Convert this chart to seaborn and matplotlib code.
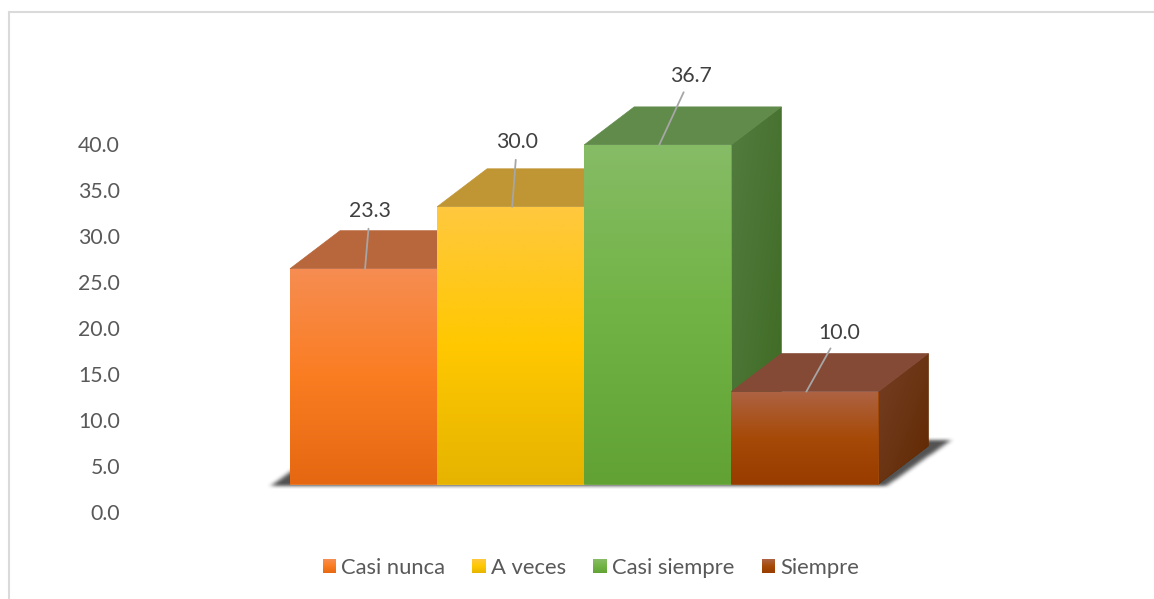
import numpy as np
import pandas as pd
import matplotlib
matplotlib.use("Agg")
import matplotlib.pyplot as plt
import seaborn as sns
from matplotlib.colors import to_rgb
from matplotlib.legend_handler import HandlerBase
from matplotlib.lines import Line2D
from matplotlib.patches import Patch, Polygon, Rectangle
from matplotlib.path import Path

# ---------- data ----------
categories = ["Casi nunca", "A veces", "Casi siempre", "Siempre"]
values = [23.3, 30.0, 36.7, 10.0]
axis_ticks = [0, 5, 10, 15, 20, 25, 30, 35, 40]

# ---------- styles ----------
front_colors = [("#F68D52", "#FB7D22", "#E56711"),
                ("#FFC83F", "#FFC800", "#E6B400"),
                ("#86BC66", "#71B344", "#62A235"),
                ("#AE6343", "#A64A08", "#983C00")]
top_colors = ["#B8663C", "#C09634", "#618B4B", "#854A36"]
side_colors = [("#B05A20", "#9A4C10"), ("#B09020", "#947800"),
               ("#537C40", "#3D6A22"), ("#753F26", "#612900")]
label_offsets = [(5, 58), (5, 65), (32, 69), (33, 59)]   # pixels from the bar-top anchor

W, H, DPI = 1154, 599, 100
PX_PER_BAR, PX_PER_UNIT = 147.1, 9.24
BASE_X, BASE_Y = 290, 484        # pixel position of the left end of the bars' base
DEPTH_PX = (50, 38)
AX_L, AX_R, AX_T, AX_B = 125, 1000, 40, 525
TICK_SHIFT, TICK_SCALE = 3.03, 0.996   # the 3-D floor sits above the axis labels

sns.set_theme(style="white")
plt.rcParams["font.family"] = ["Lato", "DejaVu Sans"]

fig = plt.figure(figsize=(W / DPI, H / DPI), dpi=DPI, facecolor="white")
ax = fig.add_axes([AX_L / W, 1 - AX_B / H, (AX_R - AX_L) / W, (AX_B - AX_T) / H])

xlim = (-0.5 - (BASE_X - AX_L) / PX_PER_BAR, -0.5 + (AX_R - BASE_X) / PX_PER_BAR)
ylim = ((BASE_Y - AX_B) / PX_PER_UNIT, (BASE_Y - AX_T) / PX_PER_UNIT)
dx, dy = DEPTH_PX[0] / PX_PER_BAR, DEPTH_PX[1] / PX_PER_UNIT

df = pd.DataFrame({"categoria": categories, "valor": values})
sns.barplot(data=df, x="categoria", y="valor", hue="categoria", hue_order=categories,
            palette=[c[1] for c in front_colors], width=1, dodge=False, legend=False,
            saturation=1, linewidth=0, ax=ax)
sns.despine(ax=ax, left=True, bottom=True)


def gradient_face(verts, stops, z, diagonal=False):
    """Fill a polygon with a linear gradient, top to bottom (or corner to corner)."""
    verts = np.asarray(verts)
    # solid underlay stops the white background bleeding through antialiased edges
    under = stops[len(stops) // 2]
    ax.add_patch(Polygon(verts, closed=True, fc=under, ec=under, lw=0.5, zorder=z - 0.05))
    poly = Polygon(verts, closed=True, transform=ax.transData, fc="none", ec="none")
    ax.add_patch(poly)
    rgb = np.array([to_rgb(c) for c in stops])
    n = 256
    v, u = np.mgrid[0:1:n * 1j, 0:1:n * 1j]
    t = (u + v) / 2 if diagonal else v
    pos = np.linspace(0, 1, len(stops))
    img = np.dstack([np.interp(t, pos, rgb[:, k]) for k in range(3)])
    im = ax.imshow(img, extent=(verts[:, 0].min(), verts[:, 0].max(),
                                verts[:, 1].min(), verts[:, 1].max()),
                   origin="upper", aspect="auto", zorder=z, interpolation="bilinear")
    im.set_clip_path(poly)


# soft floor shadow, blurred from a parallelogram under the bars
def floor_shadow(x0, x1):
    px, py = 1 / PX_PER_BAR, 1 / PX_PER_UNIT
    shape = Path([(x0 - 19 * px, -3 * py), (x1 + 8 * px, -3 * py),
                  (x1 + 72 * px, 43 * py), (x0 + 43 * px, 43 * py)])
    gx = np.linspace(x0 - 40 * px, x1 + 90 * px, 1040)
    gy = np.linspace(-15 * py, 55 * py, 70)
    xx, yy = np.meshgrid(gx, gy)
    mask = shape.contains_points(np.c_[xx.ravel(), yy.ravel()]).reshape(xx.shape).astype(float)
    kx, ky = np.ones(9) / 9, np.ones(4) / 4
    for _ in range(2):
        mask = np.apply_along_axis(lambda r: np.convolve(r, ky, "same"), 0, mask)
        mask = np.apply_along_axis(lambda r: np.convolve(r, kx, "same"), 1, mask)
    rgba = np.zeros(mask.shape + (4,))
    rgba[..., :3] = to_rgb("#3F3F3F")
    rgba[..., 3] = mask * 0.9
    ax.imshow(rgba, extent=(gx[0], gx[-1], gy[0], gy[-1]), origin="lower",
              aspect="auto", zorder=0.5, interpolation="bilinear")


bars = [c[0] for c in ax.containers]
floor_shadow(bars[0].get_x(), bars[-1].get_x() + bars[-1].get_width())

for i, bar in enumerate(bars):
    x0, x1, h = bar.get_x(), bar.get_x() + bar.get_width(), bar.get_height()
    z = 2 + i
    bar.set_zorder(z)
    gradient_face([(x1, 0), (x1 + dx, dy), (x1 + dx, h + dy), (x1, h)],
                  side_colors[i], z + 0.1, diagonal=True)
    ax.add_patch(Polygon([(x0, h), (x1, h), (x1 + dx, h + dy), (x0 + dx, h + dy)],
                         closed=True, fc=top_colors[i], ec=top_colors[i], lw=0.5, zorder=z + 0.2))
    gradient_face([(x0, 0), (x1, 0), (x1, h), (x0, h)], front_colors[i], z + 0.3)
    ax.annotate(f"{values[i]:.1f}", xy=(i + 1.5 / PX_PER_BAR, h),
                xytext=label_offsets[i], textcoords="offset pixels",
                ha="center", va="center", fontsize=15.3, color="#404040", zorder=20,
                annotation_clip=False,
                arrowprops=dict(arrowstyle="-", color="#A6A6A6", lw=1.3, shrinkA=13,
                                shrinkB=0, patchA=None, relpos=(0.5, 0.5)))

ax.set_xlim(xlim)
ax.set_ylim(ylim)
ax.set_xticks([])
ax.set_xlabel("")
ax.set_ylabel("")
ax.set_yticks([v * TICK_SCALE - TICK_SHIFT for v in axis_ticks],
              [f"{v:.1f}" for v in axis_ticks])
ax.tick_params(axis="y", length=0, pad=3.5, labelsize=15.3, labelcolor="#595959")
ax.patch.set_visible(False)


# legend with small gradient swatches
class GradientHandler(HandlerBase):
    def __init__(self, stops):
        super().__init__()
        self.stops = stops

    def create_artists(self, legend, orig, xd, yd, width, height, fontsize, trans):
        rgb = np.array([to_rgb(c) for c in self.stops])
        pos = np.linspace(0, 1, len(self.stops))
        n = 14
        out = []
        side = 13.5 * 0.72
        for k in range(n):
            c = [np.interp((k + 0.5) / n, pos, rgb[:, j]) for j in range(3)]
            y = -yd + (height - side) / 2 + side * (1 - (k + 1) / n)
            out.append(Rectangle((-xd, y), side, side / n + 0.1, fc=c, ec="none",
                                 transform=trans))
        return out


handles = [Patch(label=c) for c in categories]
leg = ax.legend(handles=handles, ncol=4, frameon=False, fontsize=15.8,
                loc="center", bbox_to_anchor=(591 / W, 1 - 568 / H),
                bbox_transform=fig.transFigure,
                handler_map={h: GradientHandler(front_colors[i]) for i, h in enumerate(handles)},
                handlelength=0.62, handleheight=0.7, handletextpad=0.24, columnspacing=1.23,
                borderpad=0, labelcolor="#595959")

# thin chart-area border (left and top)
border = "#DADADA"
fig.add_artist(Line2D([8.5 / W, 8.5 / W], [0, 1 - 11.5 / H], color=border, lw=1.5))
fig.add_artist(Line2D([8.5 / W, 1], [1 - 11.5 / H, 1 - 11.5 / H], color=border, lw=1.5))

fig.savefig("out.png", dpi=DPI, facecolor="white")
